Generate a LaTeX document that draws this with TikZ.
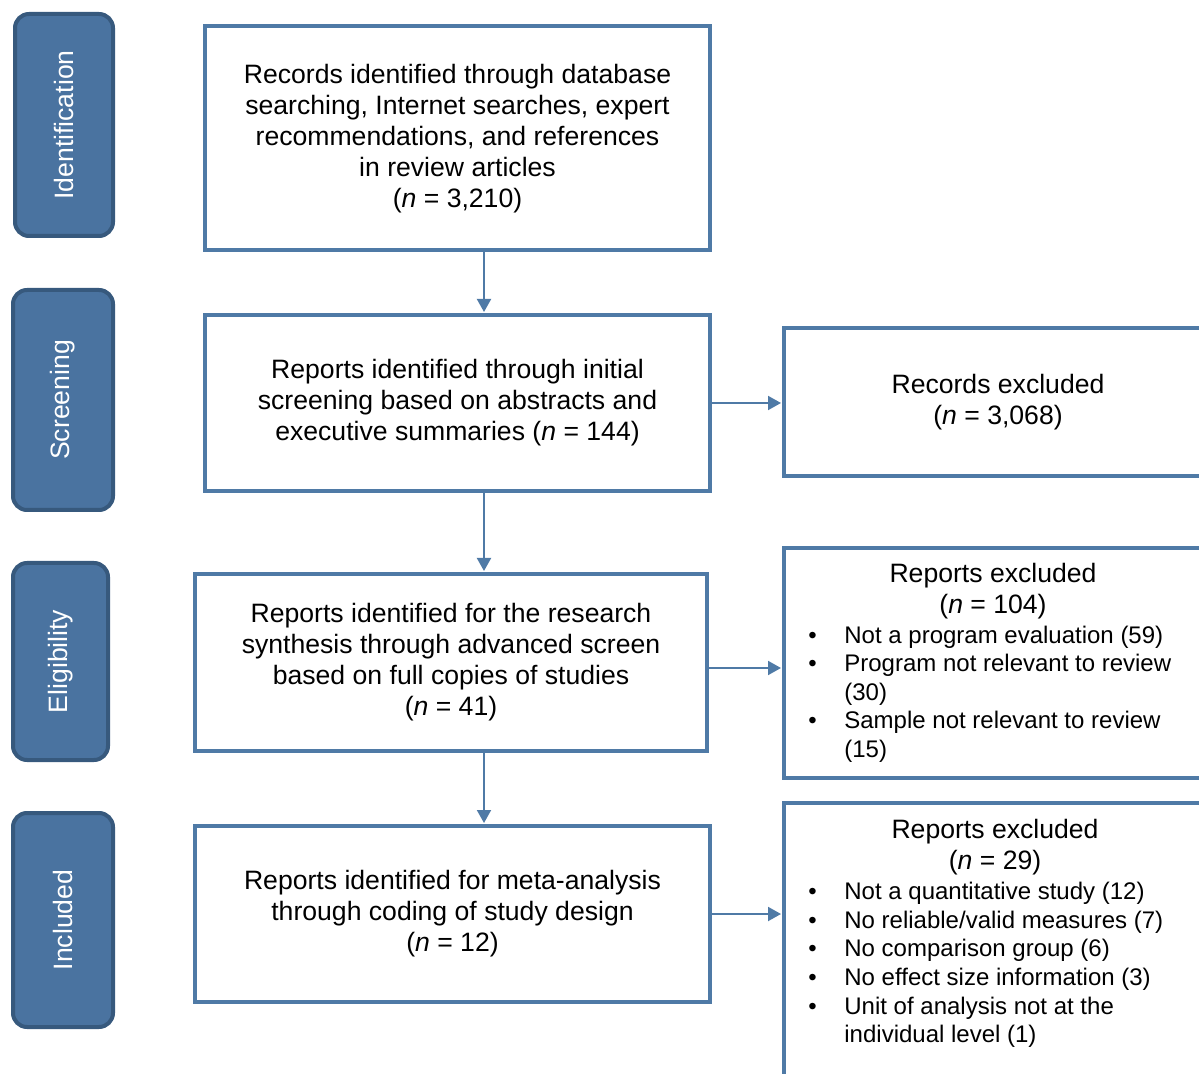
\documentclass[tikz,border=0pt]{standalone}
\usepackage{fontspec}
\setmainfont{Liberation Sans}
\usepackage{tikz}
\usetikzlibrary{arrows.meta}
\definecolor{boxblue}{HTML}{4F7AA6}
\definecolor{tabblue}{HTML}{4A73A0}
\definecolor{tabedge}{HTML}{37597D}
\newcommand{\itemdot}{\makebox[18pt][l]{\textbullet}}
\newcommand{\itemgap}{\hspace*{18pt}}

\begin{document}
\begin{tikzpicture}[
x=0.5pt, y=-0.5pt,
font=\fontsize{13.3}{15.5}\selectfont,
tab/.style={draw=tabedge, line width=2pt, fill=tabblue, rounded corners=7pt, rotate=90, text=white},
box/.style={draw=boxblue, line width=2pt, align=center, inner sep=0pt},
exbox/.style={draw=boxblue, line width=2pt, minimum width=214pt, inner sep=0pt},
ttl/.style={align=center, inner sep=0pt},
bullets/.style={align=left, inner sep=0pt, anchor=west, font=\fontsize{12}{14.3}\selectfont},
arr/.style={-{Triangle[length=6.5pt,width=7pt]}, draw=boxblue, line width=1pt, shorten >=0.5pt}
]
\useasboundingbox (0,0) rectangle (1199,1074);
\clip (0,0) rectangle (1199,1074);

% phase tabs
\node[tab, minimum width=111pt, minimum height=49pt] (identification) at (64,125) {Identification};
\node[tab, minimum width=110pt, minimum height=50pt] (screening) at (63,400) {Screening};
\node[tab, minimum width=98.5pt, minimum height=47.5pt] (eligibility) at (60.5,661.5) {Eligibility};
\node[tab, minimum width=107pt, minimum height=50pt] (inclusion) at (63,920) {Included};

% main column
\node[box, minimum width=252.5pt, minimum height=112pt] (records) at (457.5,138.5) {Records identified through database\\searching, Internet searches, expert\\recommendations, and references\\in review articles\\(\textit{n} = 3,210)};
\node[box, minimum width=252.5pt, minimum height=88pt] (screened) at (457.5,403) {Reports identified through initial\\screening based on abstracts and\\executive summaries (\textit{n} = 144)};
\node[box, minimum width=256pt, minimum height=88.5pt] (eligible) at (451,662.5) {Reports identified for the research\\synthesis through advanced screen\\based on full copies of studies\\(\textit{n} = 41)};
\node[box, minimum width=257.5pt, minimum height=88pt] (included) at (452.5,914) {Reports identified for meta-analysis\\through coding of study design\\(\textit{n} = 12)};

% exclusions
\node[exbox, minimum height=74pt, align=center] (recexcl) at (998,402) {Records excluded\\(\textit{n} = 3,068)};
\node[exbox, minimum height=115pt] (fullexcl) at (998,663) {};
\node[ttl] (fullttl) at (993,591.5) {Reports excluded\\(\textit{n} = 104)};
\node[bullets] (fulllist) at (808,694) {\itemdot Not a program evaluation (59)\\\itemdot Program not relevant to review\\\itemgap(30)\\\itemdot Sample not relevant to review\\\itemgap(15)};
\node[exbox, minimum height=160pt, anchor=north] (codingexcl) at (998,801) {};
\node[ttl] (codingttl) at (995,847.5) {Reports excluded\\(\textit{n} = 29)};
\node[bullets] (codinglist) at (808,965) {\itemdot Not a quantitative study (12)\\\itemdot No reliable/valid measures (7)\\\itemdot No comparison group (6)\\\itemdot No effect size information (3)\\\itemdot Unit of analysis not at the\\\itemgap individual level (1)};

% connectors
\coordinate (spine) at (484,0);
\draw[arr] (records.south -| spine) -- (screened.north -| spine);
\draw[arr] (screened.south -| spine) -- (eligible.north -| spine);
\draw[arr] (eligible.south -| spine) -- (included.north -| spine);
\draw[arr] (screened.east) -- (screened.east -| recexcl.west);
\draw[arr] ([yshift=-2.75pt]eligible.east) -- ([yshift=-2.75pt]eligible.east -| fullexcl.west);
\draw[arr] (included.east) -- (included.east -| codingexcl.west);
\end{tikzpicture}
\end{document}
